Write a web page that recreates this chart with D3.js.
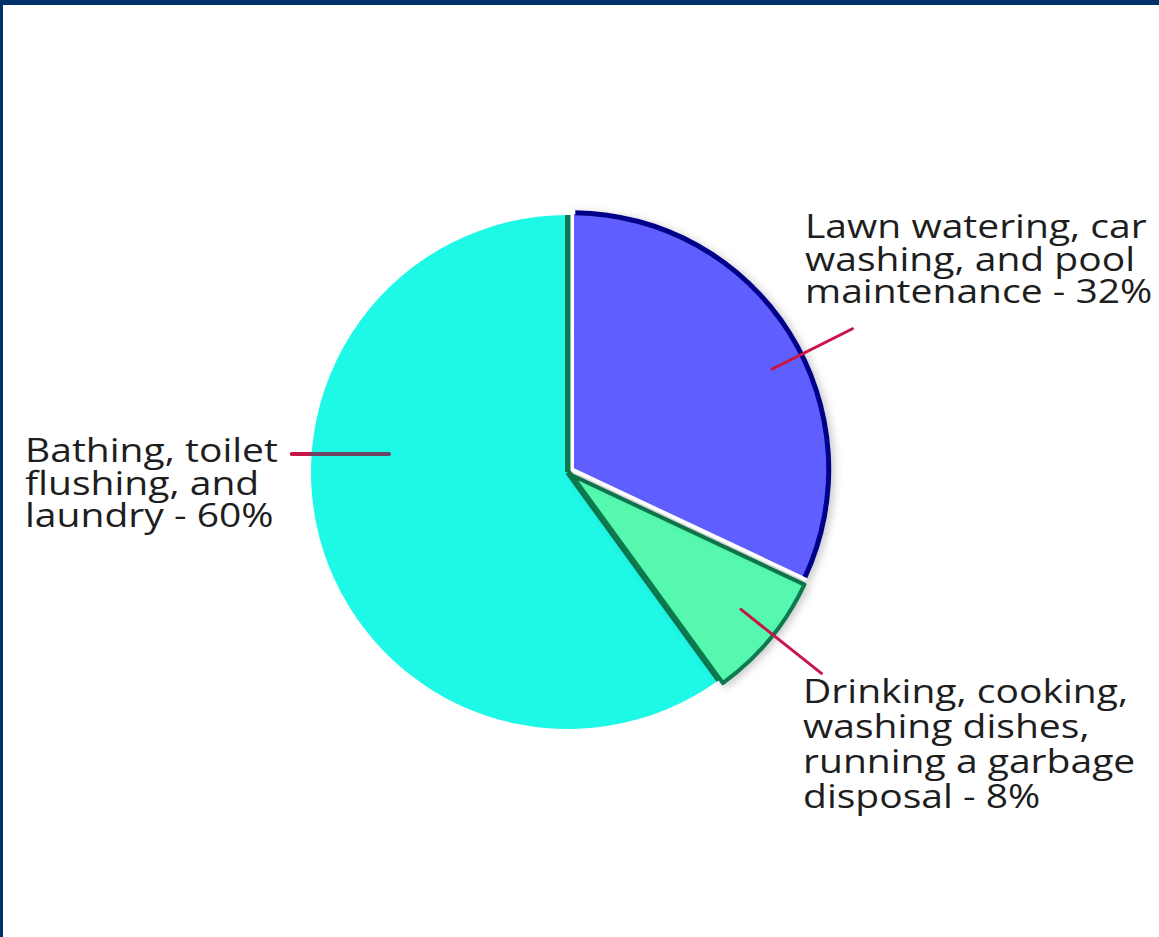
<!DOCTYPE html>
<html>
  <head>
    <meta charset="utf-8" />
    <script src="https://cdn.jsdelivr.net/npm/d3@7"></script>
    <style>
      body {
        margin: 0;
        background: #ffffff;
        overflow: hidden;
      }
      svg {
        display: block;
        font-family: "Open Sans", sans-serif;
      }
    </style>
  </head>
  <body>
    <svg id="chart" width="1159" height="937"></svg>

    <script>
      // slices, clockwise from 12 o'clock
      const categories = ["Lawn", "Drinking", "Bathing"];
      const shares = [32, 8, 60];
      const labelLines = [
        ["Lawn watering, car", "washing, and pool", "maintenance - 32%"],
        ["Drinking, cooking,", "washing dishes,", "running a garbage", "disposal - 8%"],
        ["Bathing, toilet", "flushing, and", "laundry - 60%"],
      ];

      const W = 1159, H = 937;
      const cx = 568, cy = 472, R = 257;

      const fills = { Lawn: "#5f5fff", Drinking: "#55f8ae", Bathing: "#1ef8e6" };
      const explode = { Lawn: 5, Drinking: 5, Bathing: 0 };
      const darkGreen = "#0b7a4e";

      const svg = d3.select("#chart");

      const defs = svg.append("defs");
      const f = defs.append("filter").attr("id", "shadow")
        .attr("x", "-20%").attr("y", "-20%").attr("width", "140%").attr("height", "140%");
      f.append("feDropShadow").attr("dx", 3).attr("dy", 2)
        .attr("stdDeviation", 4).attr("flood-color", "#000").attr("flood-opacity", 0.22);

      // frame
      svg.append("rect").attr("width", W).attr("height", H).attr("fill", "#fff");
      svg.append("rect").attr("width", W).attr("height", 5).attr("fill", "#00316b");
      svg.append("rect").attr("width", 3).attr("height", H).attr("fill", "#00316b");

      const data = categories.map((c, i) => ({ name: c, value: shares[i], lines: labelLines[i] }));
      const pie = d3.pie().sort(null).value(d => d.value);
      const arcs = pie(data);
      const byName = {};
      arcs.forEach(a => (byName[a.data.name] = a));

      const arc = d3.arc().innerRadius(0).outerRadius(R);

      function offset(a) {
        const mid = (a.startAngle + a.endAngle) / 2;
        const k = explode[a.data.name];
        return [cx + Math.sin(mid) * k, cy - Math.cos(mid) * k];
      }

      // bathing (big cyan) slice
      const bath = byName.Bathing;
      const gb = svg.append("g").attr("transform", `translate(${offset(bath)})`);
      gb.append("path").attr("d", arc(bath)).attr("fill", fills.Bathing);
      [bath.startAngle, bath.endAngle].forEach(t => {
        gb.append("line")
          .attr("x1", 0).attr("y1", 0)
          .attr("x2", Math.sin(t) * R).attr("y2", -Math.cos(t) * R)
          .attr("stroke", darkGreen).attr("stroke-width", 6);
      });

      // drinking (green) slice
      const drink = byName.Drinking;
      const gd = svg.append("g").attr("transform", `translate(${offset(drink)})`)
        .attr("filter", "url(#shadow)");
      gd.append("path").attr("d", arc(drink))
        .attr("fill", fills.Drinking).attr("stroke", darkGreen)
        .attr("stroke-width", 4).attr("stroke-linejoin", "round");

      // lawn (blue) slice
      const lawn = byName.Lawn;
      const gl = svg.append("g").attr("transform", `translate(${offset(lawn)})`)
        .attr("filter", "url(#shadow)");
      gl.append("path").attr("d", arc(lawn))
        .attr("fill", fills.Lawn).attr("stroke", "#ffffff").attr("stroke-width", 3.5);
      gl.append("path")
        .attr("d", d3.arc().innerRadius(R - 3).outerRadius(R + 2)
          .startAngle(lawn.startAngle + 0.012).endAngle(lawn.endAngle - 0.006)())
        .attr("fill", "#000088");

      // leader lines (position along slice, radii as share of R)
      const leaders = [
        { name: "Lawn", at: 0.55, r0: 0.87, r1: 1.22, flat: false },
        { name: "Drinking", at: 0.46, r0: 0.84, r1: 1.24, flat: false },
        { name: "Bathing", at: 0.61, r0: 0.70, r1: 1.075, flat: true },
      ];
      const leaderColor = "#c8164a";
      leaders.forEach(l => {
        const a = byName[l.name];
        const t = a.startAngle + (a.endAngle - a.startAngle) * l.at;
        const [ox, oy] = offset(a);
        const p0 = [ox + Math.sin(t) * R * l.r0, oy - Math.cos(t) * R * l.r0];
        let p1 = [ox + Math.sin(t) * R * l.r1, oy - Math.cos(t) * R * l.r1];
        if (l.flat) {
          p1 = [ox + Math.sign(Math.sin(t)) * R * l.r1, p0[1]];
          const xr = ox + Math.sign(Math.sin(t)) * Math.sqrt(R * R - (p0[1] - oy) ** 2);
          svg.append("line")
            .attr("x1", p1[0]).attr("y1", p1[1]).attr("x2", xr).attr("y2", p0[1])
            .attr("stroke", leaderColor).attr("stroke-width", 4).attr("stroke-linecap", "round");
          svg.append("line")
            .attr("x1", xr).attr("y1", p0[1]).attr("x2", p0[0]).attr("y2", p0[1])
            .attr("stroke", "#6f4364").attr("stroke-width", 4).attr("stroke-linecap", "round");
          return;
        }
        svg.append("line")
          .attr("x1", p0[0]).attr("y1", p0[1]).attr("x2", p1[0]).attr("y2", p1[1])
          .attr("stroke", leaderColor).attr("stroke-width", 3).attr("stroke-linecap", "round");
      });

      // labels
      const labelPos = {
        Lawn: { x: 805, y: 238, lh: 32.5 },
        Drinking: { x: 803, y: 703, lh: 35 },
        Bathing: { x: 25, y: 462, lh: 32.5 },
      };
      arcs.forEach(a => {
        const p = labelPos[a.data.name];
        const t = svg.append("text")
          .attr("transform", `translate(${p.x},${p.y}) scale(1.22,1)`)
          .attr("font-size", 32).attr("fill", "#1e1e1e");
        a.data.lines.forEach((s, i) => {
          t.append("tspan").attr("x", 0).attr("y", i * p.lh).text(s);
        });
      });
    </script>
  </body>
</html>
